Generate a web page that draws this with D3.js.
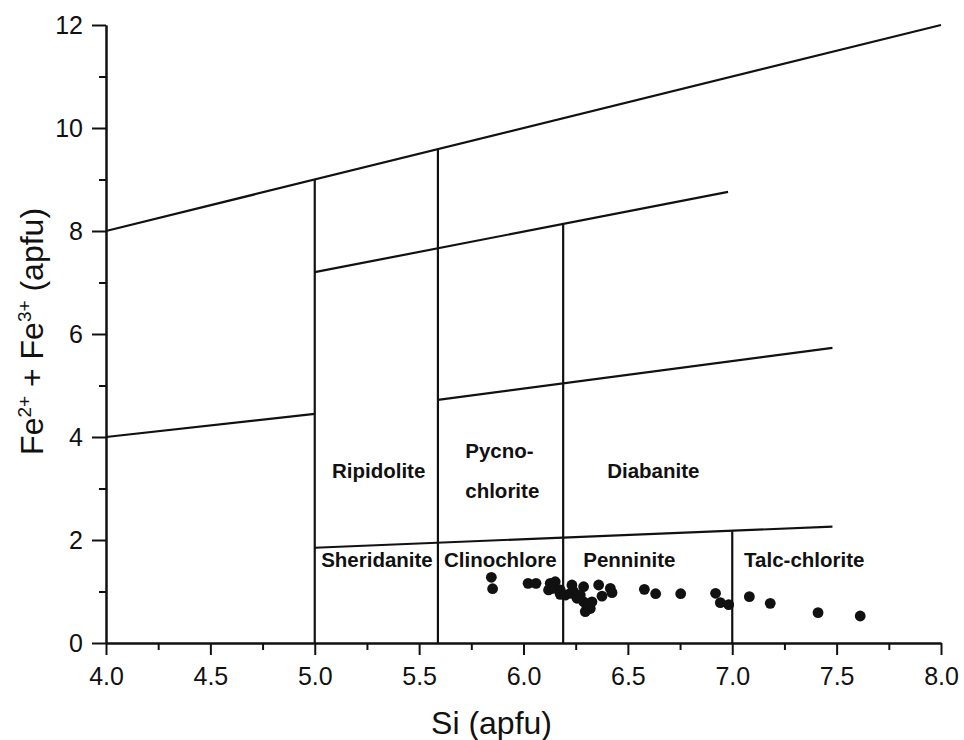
<!DOCTYPE html>
<html>
<head>
<meta charset="utf-8">
<script src="https://cdn.jsdelivr.net/npm/d3@7"></script>
<style>
	body { margin: 0; background: #fff; }
	text { font-family: "Liberation Sans", Arial, sans-serif; fill: #111; }
</style>
</head>
<body>
<div id="chart-area"></div>
<script>

// Tick values of both axes
var xTicks      = [4.0, 4.5, 5.0, 5.5, 6.0, 6.5, 7.0, 7.5, 8.0];
var xMinorTicks = [4.25, 4.75, 5.25, 5.75, 6.25, 6.75, 7.25, 7.75];
var yTicks      = [0, 2, 4, 6, 8, 10, 12];
var yMinorTicks = [1, 3, 5, 7, 9, 11];

// Field boundaries of the classification (Si start, Fe start, Si end, Fe end)
var boundaries = [
	[4.0, 8.0, 8.0, 12.0],
	[5.0, 7.2, 6.98, 8.76],
	[5.59, 4.72, 7.48, 5.73],
	[4.0, 4.0, 5.0, 4.45],
	[5.0, 1.85, 7.48, 2.26],
	[5.0, 0, 5.0, 9.0],
	[5.59, 0, 5.59, 9.59],
	[6.19, 0, 6.19, 8.15],
	[7.0, 0, 7.0, 2.17]
];

// Field names and where they sit (Si, Fe)
var fieldNames = ["Ripidolite", "Diabanite", "Sheridanite", "Clinochlore", "Penninite", "Talc-chlorite"];
var fieldSi    = [5.306, 6.622, 5.298, 5.889, 6.507, 7.345];
var fieldFe    = [3.2, 3.2, 1.47, 1.47, 1.47, 1.47];

// Two-line label of the pycnochlorite field (left aligned)
var pycnoLines = ["Pycno-", "chlorite"];
var pycnoSi    = 5.721;
var pycnoFe    = [3.59, 2.81];

// Analysed chlorites
var siValues = [5.846, 5.852, 6.022, 6.06, 6.12, 6.128, 6.144, 6.152, 6.176, 6.176, 6.2, 6.224,
	6.232, 6.24, 6.256, 6.272, 6.288, 6.288, 6.304, 6.296, 6.328, 6.32, 6.36, 6.376, 6.416,
	6.424, 6.579, 6.633, 6.753, 6.92, 6.943, 6.983, 7.082, 7.182, 7.411, 7.613];
var feValues = [1.276, 1.054, 1.159, 1.159, 1.03, 1.159, 1.06, 1.19, 1.03, 0.945, 0.93, 0.965,
	1.126, 1.0, 0.868, 0.93, 1.093, 0.80, 0.705, 0.61, 0.80, 0.67, 1.126, 0.91, 1.06,
	0.977, 1.042, 0.957, 0.957, 0.965, 0.783, 0.744, 0.90, 0.77, 0.589, 0.524];


// Canvas
var margin = { top : 25, bottom : 97, left : 106, right : 23 };
var width  = 964 - margin.left - margin.right;
var height = 740 - margin.top  - margin.bottom;

var svg = d3.select('#chart-area')
	.append("svg")
		.attr("width",  width  + margin.left + margin.right)
		.attr("height", height + margin.top  + margin.bottom);

var g = svg.append("g")
	.attr("transform", "translate(" + margin.left + ", " + margin.top + ")");


// Scales
var x = d3.scaleLinear().domain([4, 8]).range([0, width]);
var y = d3.scaleLinear().domain([0, 12]).range([height, 0]);


// Minor ticks first, major axes on top
g.append('g')
	.attr('class', 'x minor')
	.attr('transform', 'translate(0,' + height + ')')
	.call(d3.axisBottom(x).tickValues(xMinorTicks).tickSize(7).tickSizeOuter(0).tickFormat(''));

g.append('g')
	.attr('class', 'y minor')
	.call(d3.axisLeft(y).tickValues(yMinorTicks).tickSize(7).tickSizeOuter(0).tickFormat(''));

var xAxisGroup = g.append('g')
	.attr('class', 'x axis')
	.attr('transform', 'translate(0,' + height + ')')
	.call(d3.axisBottom(x).tickValues(xTicks).tickSize(12).tickSizeOuter(0)
		.tickPadding(12).tickFormat(d3.format('.1f')));

var yAxisGroup = g.append('g')
	.attr('class', 'y axis')
	.call(d3.axisLeft(y).tickValues(yTicks).tickSize(14).tickSizeOuter(0)
		.tickPadding(9).tickFormat(d3.format('d')));

g.selectAll('.axis text, .minor text')
	.attr('font-size', '25px')
	.attr('font-family', '"Liberation Sans", Arial, sans-serif')
	.attr('fill', '#111');

g.selectAll('.domain, .tick line')
	.attr('stroke', '#111')
	.attr('stroke-width', 2);


// Field boundaries
g.selectAll('line.boundary')
	.data(boundaries)
	.enter()
	.append('line')
		.attr('class', 'boundary')
		.attr('x1', function(d) { return x(d[0]); })
		.attr('y1', function(d) { return y(d[1]); })
		.attr('x2', function(d) { return x(d[2]); })
		.attr('y2', function(d) { return y(d[3]); })
		.attr('stroke', '#111')
		.attr('stroke-width', 2.2);


// Field names
g.selectAll('text.field')
	.data(fieldNames)
	.enter()
	.append('text')
		.attr('class', 'field')
		.attr('x', function(d, i) { return x(fieldSi[i]); })
		.attr('y', function(d, i) { return y(fieldFe[i]); })
		.attr('text-anchor', 'middle')
		.attr('font-size', '20.5px')
		.attr('font-weight', 'bold')
		.text(function(d) { return d; });

g.selectAll('text.pycno')
	.data(pycnoLines)
	.enter()
	.append('text')
		.attr('class', 'pycno')
		.attr('x', x(pycnoSi))
		.attr('y', function(d, i) { return y(pycnoFe[i]); })
		.attr('font-size', '20.5px')
		.attr('font-weight', 'bold')
		.text(function(d) { return d; });


// Sample points
g.selectAll('circle')
	.data(siValues)
	.enter()
	.append('circle')
		.attr('cx', function(d) { return x(d); })
		.attr('cy', function(d, i) { return y(feValues[i]); })
		.attr('r', 5.4)
		.attr('fill', '#111');


// Axis titles
g.append("text")
	.attr("x", x(6) - 32)
	.attr("y", height + 91)
	.attr("font-size", "32px")
	.attr("text-anchor", "middle")
	.text("Si (apfu)");

var yLabel = g.append("text")
	.attr("transform", "translate(" + (-63) + "," + y(6.05) + ") rotate(-90)")
	.attr("font-size", "32px")
	.attr("text-anchor", "middle");

yLabel.append("tspan").text("Fe");
yLabel.append("tspan").attr("font-size", "19px").attr("dy", "-12").text("2+");
yLabel.append("tspan").attr("dy", "12").text(" + Fe");
yLabel.append("tspan").attr("font-size", "19px").attr("dy", "-12").text("3+");
yLabel.append("tspan").attr("dy", "12").text(" (apfu)");

</script>
</body>
</html>
